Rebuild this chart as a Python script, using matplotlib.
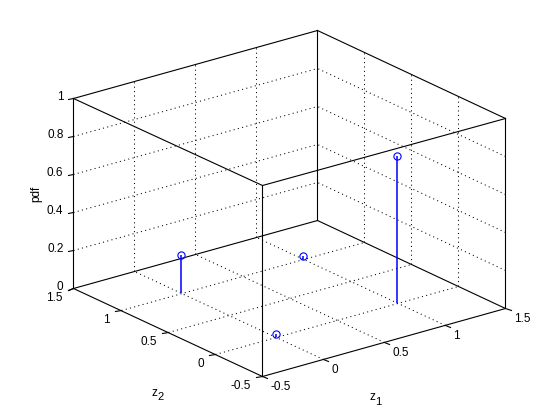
import numpy as np
import matplotlib
matplotlib.use('Agg')
import matplotlib.pyplot as plt
from mpl_toolkits.mplot3d import proj3d

# ---- data ----
z1 = [0, 0, 1, 1]
z2 = [0, 1, 0, 1]
pdf = [0.015, 0.2, 0.77, 0.015]

z1_ticks = [-0.5, 0, 0.5, 1, 1.5]
z2_ticks = [-0.5, 0, 0.5, 1, 1.5]
pdf_ticks = [0, 0.2, 0.4, 0.6, 0.8, 1]
z1_labels = ['-0.5', '0', '0.5', '1', '1.5']
z2_labels = ['-0.5', '0', '0.5', '1', '1.5']
pdf_labels = ['0', '0.2', '0.4', '0.6', '0.8', '1']

plt.rcParams['font.family'] = ['Liberation Sans', 'DejaVu Sans']
FS = 8.5

W, H = 560, 420
fig = plt.figure(figsize=(W / 100, H / 100), dpi=100)
fig.patch.set_facecolor('white')
ax = fig.add_axes([0.1, 0.1, 0.8, 0.8], projection='3d', proj_type='ortho',
                  computed_zorder=False)
ax.set_box_aspect((1, 1, 0.662))
ax.view_init(elev=21.07, azim=-127.7)
x0, x1 = z1_ticks[0], z1_ticks[-1]
y0, y1 = z2_ticks[0], z2_ticks[-1]
zb, zt = pdf_ticks[0], pdf_ticks[-1]
ax.set_xlim(x0, x1)
ax.set_ylim(y0, y1)
ax.set_zlim(zb, zt)
ax.set_axis_off()


def px(x, y, z):
    xs, ys, _ = proj3d.proj_transform(x, y, z, ax.get_proj())
    d = ax.transData.transform((xs, ys))
    return np.array([d[0], H - d[1]])


# ---- layout calibration: place box corners where the reference has them ----
tgt_L = np.array([72.2, 286.5])
tgt_R = np.array([506.7, 307.3])
tgt_F = np.array([261.5, 374.5])
tgt_TB = np.array([318.3, 31.0])
side = 300.0
cen = np.array([290.0, 203.0])
for _ in range(5):
    ax.set_position([(cen[0] - side / 2) / W, 1 - (cen[1] + side / 2) / H,
                     side / W, side / H])
    fig.canvas.draw()
    L = px(x0, y1, zb); R = px(x1, y0, zb); F = px(x0, y0, zb); TB = px(x1, y1, zt)
    kw = (tgt_R[0] - tgt_L[0]) / (R[0] - L[0])
    kh = (tgt_F[1] - tgt_TB[1]) / (F[1] - TB[1])
    k = 0.5 * (kw + kh)
    cur_c = np.array([(L[0] + R[0]) / 2, (F[1] + TB[1]) / 2])
    tgt_c = np.array([(tgt_L[0] + tgt_R[0]) / 2, (tgt_F[1] + tgt_TB[1]) / 2])
    off = cur_c - cen
    side *= k
    cen = tgt_c - k * off

# ---- box, grid ----
box_kw = dict(color='black', lw=0.8, zorder=2, snap=True)
grid_kw = dict(color='black', lw=0.75, linestyle=(0, (1, 3.2)), zorder=1,
               snap=True)

for v in z1_ticks[1:-1]:
    ax.plot([v, v], [y0, y1], [zb, zb], **grid_kw)
    ax.plot([v, v], [y1, y1], [zb, zt], **grid_kw)
for v in z2_ticks[1:-1]:
    ax.plot([x0, x1], [v, v], [zb, zb], **grid_kw)
    ax.plot([x1, x1], [v, v], [zb, zt], **grid_kw)
for h in pdf_ticks[1:-1]:
    ax.plot([x0, x1], [y1, y1], [h, h], **grid_kw)
    ax.plot([x1, x1], [y0, y1], [h, h], **grid_kw)

for zz in (zb, zt):
    ax.plot([x0, x1], [y0, y0], [zz, zz], **box_kw)
    ax.plot([x0, x1], [y1, y1], [zz, zz], **box_kw)
    ax.plot([x0, x0], [y0, y1], [zz, zz], **box_kw)
    ax.plot([x1, x1], [y0, y1], [zz, zz], **box_kw)
for xx in (x0, x1):
    for yy in (y0, y1):
        ax.plot([xx, xx], [yy, yy], [zb, zt], **box_kw)

# ---- ticks ----
tl_y = 0.058
tl_x = 0.047
for v in z1_ticks:
    ax.plot([v, v], [y0, y0 - tl_y], [zb, zb], **box_kw)
for v in z2_ticks:
    ax.plot([x0, x0 - tl_x], [v, v], [zb, zb], **box_kw)
for h in pdf_ticks:
    ax.plot([x0, x0 - tl_x], [y1, y1], [h, h], **box_kw)

# ---- stems ----
for a, b, c in zip(z1, z2, pdf):
    ax.plot([a, a], [b, b], [zb, c], color='#0000ff', lw=1.1, zorder=5,
            snap=True, solid_capstyle='butt')
ax.plot(z1, z2, pdf, linestyle='none', marker='o', markersize=5.2,
        markerfacecolor='none', markeredgecolor='#0000ff', markeredgewidth=0.8,
        zorder=6)


# ---- labels ----
def proj2d(x, y, z):
    xs, ys, _ = proj3d.proj_transform(x, y, z, ax.get_proj())
    return (xs, ys)


def lab(s, p3, dx, dy, **kw):
    kw.setdefault('fontsize', FS)
    ax.annotate(s, xy=proj2d(*p3), xycoords='data', xytext=(dx, -dy),
                textcoords='offset pixels', annotation_clip=False, **kw)


for v, s in zip(z1_ticks, z1_labels):
    lab(s, (v, y0, zb), 8.5, 11, ha='left', va='center')
for v, s in zip(z2_ticks, z2_labels):
    lab(s, (x0, v, zb), -11, 10, ha='right', va='center')
for h, s in zip(pdf_ticks, pdf_labels):
    lab(s, (x0, y1, h), -10, -0.5, ha='right', va='center')

# axis labels "z" with a subscript digit, MATLAB style
mid1 = ((x0 + x1) / 2, y0, zb)
mid2 = (x0, (y0 + y1) / 2, zb)
lab('z', mid1, -10.8, 55.5, ha='center', va='center')
lab('1', mid1, -5.0, 60.5, ha='center', va='center', fontsize=8)
lab('z', mid2, -13.1, 61.0, ha='center', va='center')
lab('2', mid2, -7.0, 65.0, ha='center', va='center', fontsize=8)
lab('pdf', (x0, y1, (zb + zt) / 2), -37, 1, ha='center', va='center',
    rotation=90)

fig.savefig('out.png', dpi=100, facecolor='white')
